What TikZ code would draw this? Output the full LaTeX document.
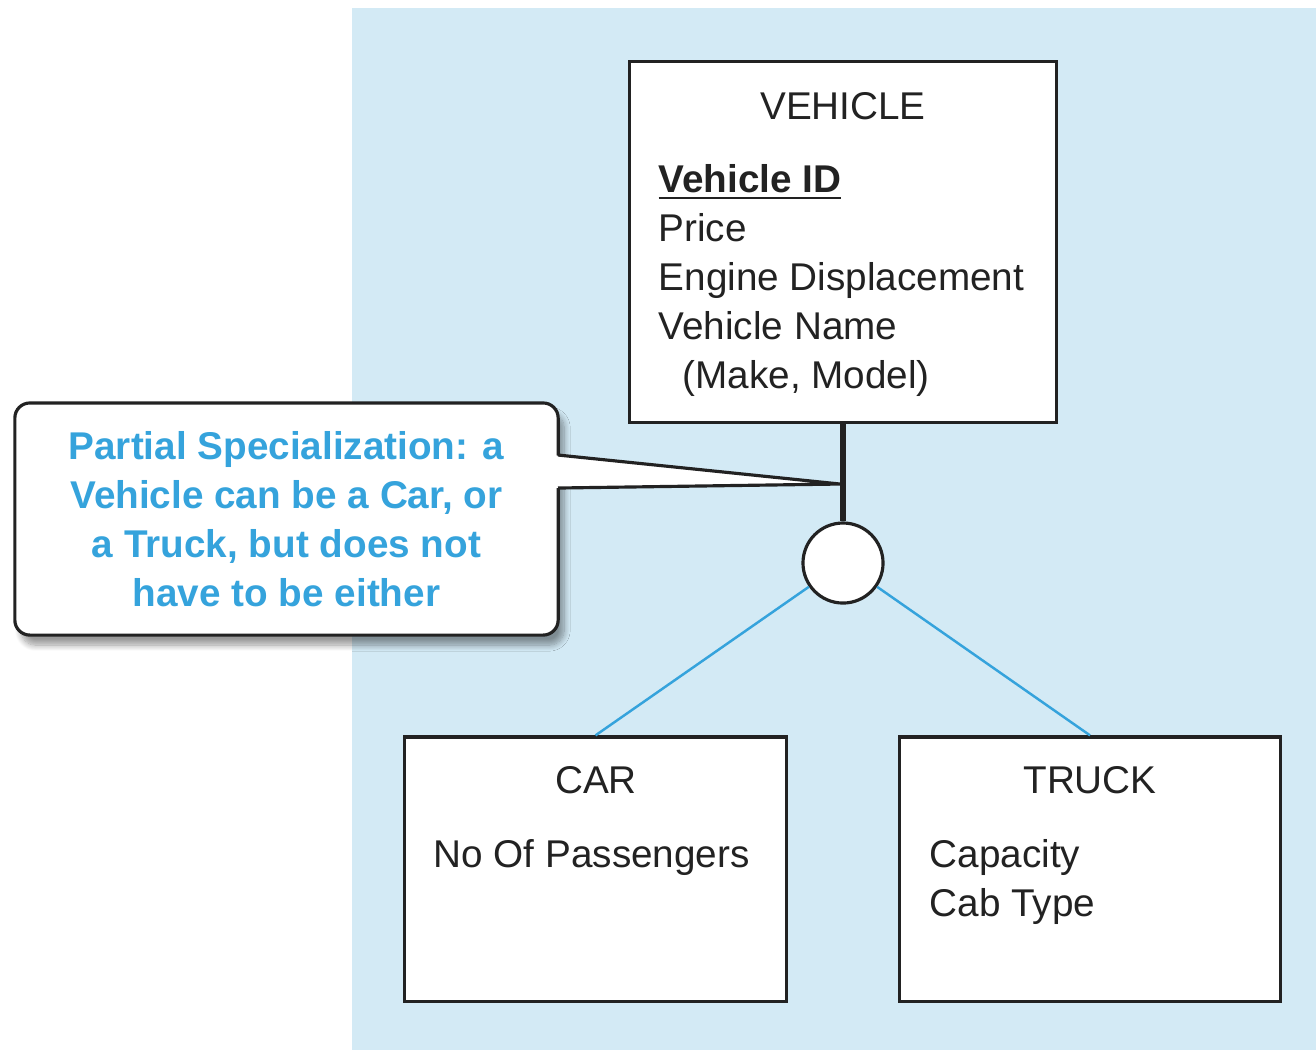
\documentclass[tikz,border=0pt]{standalone}
\usepackage{fontspec}
\setmainfont{Liberation Sans}
\usetikzlibrary{shadows.blur}
\definecolor{bgblue}{HTML}{D3EAF5}
\definecolor{noteblue}{HTML}{35A3DC}
\definecolor{inkgray}{HTML}{222222}
\tikzset{
  entity/.style={draw=inkgray, fill=white, line width=0.9pt, inner sep=0pt},
  entitytitle/.style={font=\fontsize{11pt}{13.9pt}\selectfont, text=inkgray, inner sep=0pt},
  attrs/.style={entitytitle, align=left, anchor=north west},
  note/.style={draw=inkgray, fill=white, line width=0.9pt, rounded corners=0.15cm,
               minimum width=5.43cm, minimum height=2.32cm, inner sep=0pt,
               align=center, text=noteblue, font=\fontsize{11pt}{13.9pt}\selectfont\bfseries,
               blur shadow={shadow xshift=0.6mm, shadow yshift=-1mm, shadow blur radius=0.6mm,
                            shadow blur steps=10, shadow opacity=40}},
  specnode/.style={circle, draw=inkgray, fill=white, line width=0.9pt, minimum size=0.8cm, inner sep=0pt},
  subline/.style={noteblue, line width=0.7pt},
}
\begin{document}
\begin{tikzpicture}[x=0.01cm, y=-0.01cm]
    \useasboundingbox (0,0) rectangle (1316,1050);
    \fill[bgblue] (352,8) rectangle (1316,1050);
    % supertype
    \node[entity, minimum width=4.26cm, minimum height=3.60cm] (vehicle) at (843,242) {};
    \node[entitytitle] (vehicletitle) at (843,106) {VEHICLE};
    \node[attrs] (vehicleattrs) at (658,164) {\underline{\textbf{Vehicle ID}}\\ Price\\ Engine Displacement\\ Vehicle Name\\ \hspace*{0.24cm}(Make, Model)};
    % subtypes
    \node[entity, minimum width=3.81cm, minimum height=2.64cm] (car) at (595.5,869) {};
    \node[entitytitle] (cartitle) at (596,780) {CAR};
    \node[attrs] (carattrs) at (433,839) {No Of Passengers};
    \node[entity, minimum width=3.80cm, minimum height=2.64cm] (truck) at (1090,869) {};
    \node[entitytitle] (trucktitle) at (1090,780) {TRUCK};
    \node[attrs] (truckattrs) at (929,839) {Capacity\\ Cab Type};
    % callout
    \node[note] (note) at (286.5,519) {Partial Specialization: a\\ Vehicle can be a Car, or\\ a Truck, but does not\\ have to be either};
    \coordinate (tip) at (840,484);
    \fill[white] (552,455) -- (tip) -- (552,488) -- cycle;
    \draw[inkgray, line width=0.9pt, line join=round] (558,455) -- (tip) -- (558,488);
    % specialization
    \node[specnode] (spec) at (843,563) {};
    \draw[inkgray, line width=1.6pt] (vehicle.south) -- (spec.north);
    \draw[subline] (spec) -- (car.north);
    \draw[subline] (spec) -- (truck.north);
  \end{tikzpicture}
\end{document}
